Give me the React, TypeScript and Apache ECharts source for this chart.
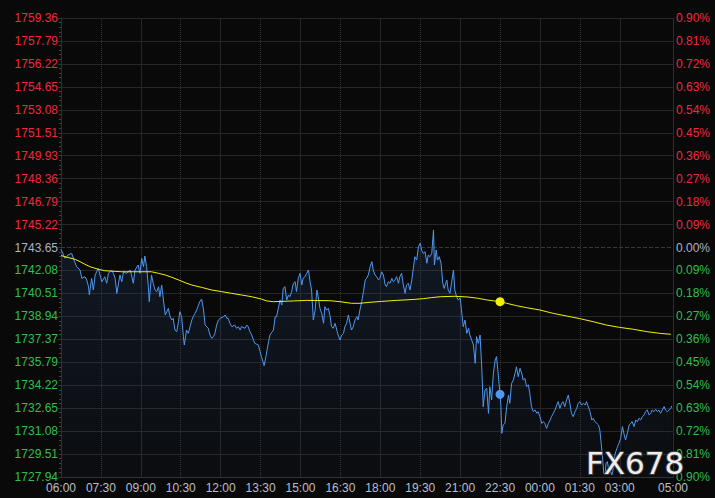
import React, { useEffect, useRef } from 'react';
import * as echarts from 'echarts';

// ---- tick labels ----
const leftTickLabels = [
  '1727.94', '1729.51', '1731.08', '1732.65', '1734.22', '1735.79', '1737.37',
  '1738.94', '1740.51', '1742.08', '1743.65', '1745.22', '1746.79', '1748.36',
  '1749.93', '1751.51', '1753.08', '1754.65', '1756.22', '1757.79', '1759.36',
];
const rightTickLabels = [
  '0.90%', '0.81%', '0.72%', '0.63%', '0.54%', '0.45%', '0.36%', '0.27%', '0.18%', '0.09%',
  '0.00%', '0.09%', '0.18%', '0.27%', '0.36%', '0.45%', '0.54%', '0.63%', '0.72%', '0.81%', '0.90%',
];
const xTickLabels = [
  '06:00', '07:30', '09:00', '10:30', '12:00', '13:30', '15:00', '16:30',
  '18:00', '19:30', '21:00', '22:30', '00:00', '01:30', '03:00', '05:00',
];
const baseIndex = 10; // 1743.65 = previous close
const markerTime = '22:30';

// ---- price (minutes after 06:00, price) ----
const priceMorning = [
  [0, 1743.52], [9, 1742.91], [16, 1743.14], [24, 1743.25], [28, 1742.91], [35, 1742.34], [43, 1742.11],
  [47, 1741.54], [54, 1741.65], [58, 1741.43], [62, 1740.97], [64, 1740.40], [69, 1741.54], [73, 1740.74],
  [77, 1741.77], [84, 1742.22], [88, 1741.77], [92, 1741.31], [99, 1741.65], [103, 1741.20], [107, 1741.88],
  [114, 1742.11], [118, 1741.88], [122, 1741.54], [126, 1740.51], [129, 1741.08], [133, 1741.77], [137, 1741.31],
  [141, 1741.99], [148, 1741.88], [156, 1742.11], [159, 1741.77], [163, 1741.20], [167, 1742.11], [174, 1742.45],
  [178, 1741.88], [182, 1742.91], [186, 1742.34], [189, 1743.07], [193, 1742.34], [197, 1740.97], [199, 1739.94],
  [204, 1741.77], [208, 1741.20], [212, 1740.74], [216, 1740.63], [220, 1740.97], [223, 1740.28], [227, 1741.08],
  [231, 1740.06], [235, 1739.03], [242, 1739.48], [246, 1738.91], [250, 1738.69], [253, 1738.80], [257, 1738.00],
  [261, 1737.89], [265, 1738.57], [268, 1739.26], [272, 1738.91], [276, 1737.55], [278, 1736.98], [283, 1738.00],
  [287, 1737.77], [291, 1738.23], [295, 1738.69], [298, 1738.91], [302, 1739.14], [306, 1739.37], [310, 1739.71],
  [313, 1739.94], [317, 1740.12], [321, 1739.48], [325, 1738.34], [332, 1738.12], [336, 1737.66], [340, 1737.43],
  [344, 1737.55], [347, 1737.77], [351, 1738.34], [355, 1738.69], [359, 1738.80], [366, 1738.91], [370, 1739.03],
  [374, 1738.80], [377, 1738.80], [381, 1738.46], [385, 1738.23], [392, 1738.34], [396, 1738.12], [400, 1738.23],
  [404, 1738.00], [407, 1738.23], [415, 1738.12], [419, 1738.34], [422, 1738.23], [426, 1737.89], [430, 1737.66],
  [434, 1737.32], [437, 1737.09], [445, 1736.98], [449, 1736.52], [452, 1736.18], [458, 1735.56], [462, 1736.18],
  [468, 1737.20], [471, 1737.66], [479, 1738.00], [483, 1738.91],
];
const priceAfternoon = [
  [486, 1738.91], [490, 1739.48], [494, 1740.06], [498, 1739.71], [501, 1740.85], [505, 1740.97], [509, 1740.06],
  [513, 1740.40], [516, 1740.28], [520, 1740.63], [524, 1741.20], [528, 1741.31], [531, 1740.63], [535, 1741.54],
  [539, 1741.88], [543, 1741.08], [546, 1741.54], [550, 1741.65], [554, 1741.88], [558, 1742.11], [561, 1741.43],
  [565, 1740.74], [569, 1738.69], [573, 1739.37], [577, 1740.74], [580, 1740.28], [584, 1739.48], [588, 1739.14],
  [592, 1738.46], [595, 1739.60], [599, 1739.37], [603, 1739.48], [607, 1738.91], [610, 1738.23], [614, 1738.12],
  [618, 1738.46], [622, 1738.00], [625, 1737.66], [629, 1737.32], [633, 1737.66], [637, 1737.77], [640, 1738.23],
  [644, 1738.46], [648, 1739.03], [652, 1738.46], [655, 1738.00], [659, 1738.23], [663, 1738.69], [667, 1738.91],
  [670, 1738.69], [674, 1739.37], [678, 1739.94], [682, 1740.63], [686, 1741.43], [689, 1741.54], [693, 1741.77],
  [697, 1742.34], [701, 1742.68], [704, 1742.11], [708, 1741.77], [712, 1741.65], [716, 1741.43], [719, 1741.54],
  [723, 1741.99], [727, 1741.77], [731, 1741.08], [734, 1740.97], [738, 1741.31], [742, 1741.20], [746, 1741.54],
  [749, 1741.31], [753, 1741.43], [757, 1741.65], [761, 1741.20], [764, 1741.65], [768, 1741.88], [772, 1741.08],
  [776, 1740.51], [779, 1741.08], [783, 1741.20], [787, 1740.74], [791, 1741.43], [794, 1742.11], [798, 1743.02],
  [802, 1742.79], [806, 1743.71], [810, 1743.94], [813, 1743.48], [817, 1743.25], [821, 1743.36], [825, 1742.57],
  [828, 1743.14], [832, 1743.02], [836, 1743.25], [840, 1744.85], [842, 1742.45], [846, 1743.48], [849, 1742.79],
  [853, 1743.02], [857, 1742.57], [861, 1741.20], [864, 1740.85], [870, 1741.43], [873, 1740.74], [877, 1740.51],
  [881, 1741.31], [885, 1742.11], [888, 1740.74], [892, 1740.28], [896, 1740.05], [900, 1740.20], [903, 1739.40],
  [907, 1738.23], [911, 1738.69], [915, 1737.77], [919, 1738.12], [922, 1737.66], [926, 1737.32], [930, 1736.98],
  [934, 1735.72], [937, 1737.55], [941, 1737.09], [945, 1737.66],
];
const priceEvening = [
  [949, 1735.27], [952, 1732.75], [956, 1733.90], [960, 1734.01], [964, 1732.30], [967, 1734.12], [971, 1733.21],
  [975, 1735.04], [979, 1735.95], [982, 1736.18], [985, 1735.27], [990, 1733.60], [992, 1732.75], [994, 1730.93],
  [997, 1731.50], [1001, 1731.61], [1005, 1732.75], [1009, 1733.55], [1012, 1732.98], [1016, 1734.35], [1020, 1734.58],
  [1024, 1735.04], [1027, 1735.49], [1031, 1734.81], [1035, 1735.38], [1039, 1735.04], [1042, 1734.58], [1046, 1734.69],
  [1050, 1734.12], [1054, 1734.24], [1057, 1733.67], [1061, 1732.75], [1065, 1732.41], [1069, 1732.53], [1073, 1732.30],
  [1076, 1732.41], [1080, 1732.07], [1084, 1731.61], [1088, 1731.73], [1091, 1731.61], [1095, 1731.27], [1099, 1731.61],
  [1103, 1731.84], [1106, 1732.07], [1110, 1732.30], [1114, 1732.53], [1118, 1732.87], [1121, 1733.10], [1125, 1732.64],
  [1129, 1732.98], [1132, 1733.10], [1136, 1732.75], [1140, 1733.21], [1144, 1733.55], [1148, 1732.87], [1151, 1732.30],
  [1155, 1732.07], [1159, 1732.41], [1163, 1732.64], [1166, 1732.98], [1170, 1733.10], [1174, 1732.87], [1178, 1732.98],
  [1182, 1732.87], [1185, 1733.10], [1189, 1732.75], [1193, 1732.41],
];
const priceOvernight = [
  [1197, 1731.84], [1200, 1731.96], [1204, 1731.73], [1208, 1731.62], [1212, 1731.50], [1215, 1731.16], [1218, 1730.25],
  [1221, 1729.33], [1224, 1728.19], [1227, 1728.08], [1229, 1728.88], [1232, 1728.99], [1234, 1728.65], [1238, 1728.42],
  [1242, 1728.08], [1244, 1728.30], [1248, 1729.33], [1251, 1729.68], [1255, 1730.02], [1258, 1730.25], [1262, 1730.59],
  [1266, 1731.39], [1270, 1730.82], [1273, 1730.47], [1277, 1730.93], [1281, 1731.50], [1285, 1731.62], [1288, 1731.73],
  [1292, 1731.39], [1296, 1731.84], [1300, 1731.73], [1303, 1731.96], [1307, 1731.84], [1311, 1732.07], [1315, 1732.19],
  [1318, 1732.41], [1322, 1732.53], [1326, 1732.19], [1330, 1732.30], [1333, 1732.53], [1337, 1732.41], [1341, 1732.57],
  [1345, 1732.41], [1348, 1732.53], [1352, 1732.30], [1356, 1732.53], [1360, 1732.76], [1363, 1732.53], [1367, 1732.41],
  [1371, 1732.53], [1375, 1732.64], [1377, 1732.80],
];

// ---- average price line ----
const avgLine = [
  [0, 1743.10], [9, 1743.02], [32, 1742.84], [43, 1742.68], [54, 1742.50], [65, 1742.34], [84, 1742.16],
  [99, 1742.06], [137, 1741.99], [174, 1741.99], [204, 1741.99], [220, 1741.88], [235, 1741.77], [250, 1741.61],
  [265, 1741.43], [280, 1741.24], [295, 1741.08], [317, 1740.92], [340, 1740.74], [362, 1740.63], [385, 1740.51],
  [407, 1740.40], [430, 1740.28], [452, 1740.12], [464, 1739.99], [479, 1739.94], [524, 1739.99], [554, 1740.03],
  [606, 1740.01], [629, 1739.94], [655, 1739.83], [674, 1739.83], [697, 1739.90], [723, 1739.96], [757, 1740.03],
  [798, 1740.10], [817, 1740.15], [836, 1740.22], [855, 1740.28], [888, 1740.31], [918, 1740.26], [941, 1740.17],
  [960, 1740.06], [990, 1739.94], [1005, 1739.83], [1027, 1739.67], [1050, 1739.53], [1080, 1739.37], [1110, 1739.14],
  [1140, 1738.96], [1170, 1738.78], [1200, 1738.57], [1230, 1738.34], [1260, 1738.18], [1291, 1738.05], [1321, 1737.89],
  [1351, 1737.77], [1375, 1737.71],
];

const toMinute = (label: string) => {
  const [h, m] = label.split(':').map(Number);
  return (h * 60 + m - 360 + 1440) % 1440;
};

export default function App() {
  const ref = useRef<HTMLDivElement>(null);

  useEffect(() => {
    if (!ref.current) return;
    const chart = echarts.init(ref.current, null, { renderer: 'svg' });

    const xTickMinutes = xTickLabels.map(toMinute);
    const xMax = xTickMinutes[xTickMinutes.length - 1];
    const dottedMinutes = xTickMinutes.filter((m) => m % 180 !== 0 && m < xMax);
    const priceMin = parseFloat(leftTickLabels[0]);
    const priceMax = parseFloat(leftTickLabels[leftTickLabels.length - 1]);
    const basePrice = parseFloat(leftTickLabels[baseIndex]);
    const prices = [...priceMorning, ...priceAfternoon, ...priceEvening, ...priceOvernight];

    const mMin = toMinute(markerTime);
    const priceAtMarker = prices.find((p) => p[0] === mMin);
    const avgAtMarker = avgLine.find((p) => p[0] === mMin);

    const labelColor = (v: any) => {
      const n = Number(v);
      if (n > baseIndex) return '#f0283f';
      if (n < baseIndex) return '#2fbf4f';
      return '#a9b3c4';
    };
    const splitColors = leftTickLabels.map((_, i) => (i === baseIndex ? 'rgba(0,0,0,0)' : '#262626'));

    const blue = '#4f97f2';
    const yellow = '#f2f200';

    chart.setOption({
      animation: false,
      backgroundColor: '#090909',
      textStyle: { fontFamily: "'Liberation Sans', Arial, sans-serif" },
      grid: { left: 61, right: 42, top: 18, bottom: 21, containLabel: false },
      xAxis: [
        {
          type: 'value',
          min: 0,
          max: xMax,
          interval: 180,
          axisLine: { show: true, lineStyle: { color: '#333333' } },
          axisTick: { show: false },
          axisLabel: {
            customValues: xTickMinutes,
            formatter: (v: number) => {
              const i = xTickMinutes.indexOf(v);
              return i >= 0 ? xTickLabels[i] : '';
            },
            color: '#b7bfcd',
            fontSize: 12,
            margin: 5,
          },
          splitLine: { show: true, lineStyle: { color: '#262626', width: 1 } },
        },
      ],
      yAxis: [
        {
          type: 'value',
          min: 0,
          max: 20,
          interval: 1,
          position: 'left',
          axisLine: { show: true, lineStyle: { color: '#2e2e2e' } },
          axisTick: { show: true, length: 3, lineStyle: { color: '#333333' } },
          minorTick: { show: true, splitNumber: 5, length: 2, lineStyle: { color: '#444444' } },
          minorSplitLine: { show: false },
          axisLabel: {
            formatter: (v: number) => leftTickLabels[v] ?? '',
            color: labelColor,
            fontSize: 12,
            margin: 3,
          },
          splitLine: { show: true, lineStyle: { color: splitColors, width: 1 } },
        },
        {
          type: 'value',
          min: 0,
          max: 20,
          interval: 1,
          position: 'right',
          axisLine: { show: true, lineStyle: { color: '#2e2e2e' } },
          axisTick: { show: false },
          axisLabel: {
            formatter: (v: number) => rightTickLabels[v] ?? '',
            color: labelColor,
            fontSize: 12,
            margin: 3,
          },
          splitLine: { show: false },
        },
        {
          type: 'value',
          min: priceMin,
          max: priceMax,
          show: false,
          position: 'left',
        },
      ],
      graphic: [
        {
          type: 'text',
          left: 585,
          top: 446,
          z: 100,
          style: {
            text: 'FX678',
            font: "31px 'DejaVu Sans'",
            fill: '#eeeeee',
            stroke: '#3c3c3c',
            lineWidth: 2,
          },
        },
      ],
      series: [
        {
          type: 'line',
          name: 'price',
          xAxisIndex: 0,
          yAxisIndex: 2,
          data: prices,
          showSymbol: false,
          symbol: 'none',
          lineStyle: { color: blue, width: 1 },
          areaStyle: {
            origin: 'start',
            color: new echarts.graphic.LinearGradient(0, 0, 0, 1, [
              { offset: 0, color: 'rgba(45,78,130,0.33)' },
              { offset: 1, color: 'rgba(45,78,130,0.08)' },
            ]),
          },
          z: 2,
          markLine: {
            silent: true,
            z: 1,
            symbol: ['none', 'none'],
            label: { show: false },
            animation: false,
            data: [
              ...dottedMinutes.map((m) => ({
                xAxis: m,
                lineStyle: { type: 'dotted', color: '#353535', width: 1 },
              })),
              { yAxis: basePrice, lineStyle: { type: 'dashed', color: '#383838', width: 1 } },
            ],
          },
        },
        {
          type: 'line',
          name: 'avg',
          xAxisIndex: 0,
          yAxisIndex: 2,
          data: avgLine,
          showSymbol: false,
          symbol: 'none',
          lineStyle: { color: yellow, width: 1 },
          z: 3,
        },
        {
          type: 'scatter',
          xAxisIndex: 0,
          yAxisIndex: 2,
          data: avgAtMarker ? [avgAtMarker] : [],
          symbol: 'circle',
          symbolSize: 9,
          itemStyle: { color: yellow, opacity: 1, borderWidth: 0 },
          z: 10,
        },
        {
          type: 'scatter',
          xAxisIndex: 0,
          yAxisIndex: 2,
          data: priceAtMarker ? [priceAtMarker] : [],
          symbol: 'circle',
          symbolSize: 9,
          itemStyle: { color: blue, opacity: 1, borderWidth: 0 },
          z: 10,
        },
      ],
    });

    return () => chart.dispose();
  }, []);

  return (
    <div
      ref={ref}
      style={{ position: 'fixed', left: 0, top: 0, width: 715, height: 498 }}
    />
  );
}
